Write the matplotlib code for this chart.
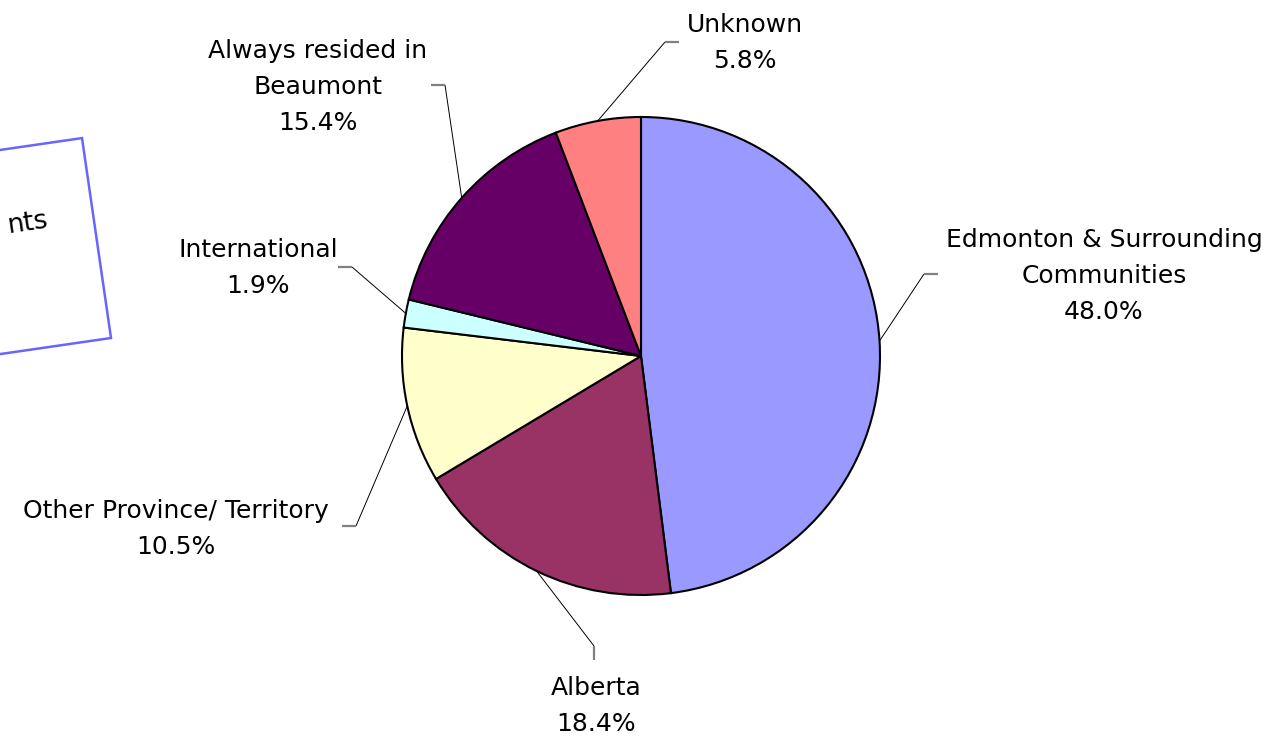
import numpy as np
import matplotlib
matplotlib.use("Agg")
import matplotlib.pyplot as plt
from matplotlib.patches import Rectangle

labels = ["Edmonton & Surrounding\nCommunities", "Alberta", "Other Province/ Territory",
          "International", "Always resided in\nBeaumont", "Unknown"]
shares = [48.0, 18.4, 10.5, 1.9, 15.4, 5.8]
colors = ["#9999FF", "#993366", "#FFFFCC", "#CCFFFF", "#660066", "#FF8080"]

# label text anchor and leader-line knee (pixel coords, y down)
text_pos = [(1104, 276), (596, 706), (176, 529), (258, 268), (318, 87), (745, 43)]
knee = [(924, 274), (594, 646), (356, 526), (352, 267), (445, 85), (665, 42)]
tick_dir = [(1, 0), (0, 1), (-1, 0), (-1, 0), (-1, 0), (1, 0)]

W, H = 1270, 737
fig = plt.figure(figsize=(12.7, 7.37), dpi=100)
ax = fig.add_axes([0, 0, 1, 1])

cx, cy, r = 641, H - 356, 239
wedges, _ = ax.pie(shares, colors=colors, startangle=90, counterclock=False,
                   center=(cx, cy), radius=r, frame=True,
                   wedgeprops=dict(edgecolor="black", linewidth=1.5))
ax.set_xlim(0, W)
ax.set_ylim(0, H)
ax.axis("off")
ax.set_aspect("equal")

for w, lab, val, tp, kn, td in zip(wedges, labels, shares, text_pos, knee, tick_dir):
    mid = np.deg2rad((w.theta1 + w.theta2) / 2)
    ex, ey = cx + r * np.cos(mid), cy + r * np.sin(mid)
    kx, ky = kn[0], H - kn[1]
    ax.plot([ex, kx], [ey, ky], color="black", lw=0.7, solid_capstyle="butt")
    ax.plot([kx, kx + 14 * td[0]], [ky, ky - 14 * td[1]], color="#808080", lw=1.6,
            solid_capstyle="butt")
    ax.text(tp[0], H - tp[1], f"{lab}\n{val:.1f}%", ha="center", va="center",
            fontsize=18, linespacing=1.65, family="DejaVu Sans")

# rotated text box, partly off the left edge
ang = 8.25
bw, bh = 250, 202
brx, bry = 111, H - 338
t = np.deg2rad(ang)
blx, bly = brx - bw * np.cos(t), bry - bw * np.sin(t)
ax.add_patch(Rectangle((blx, bly), bw, bh, angle=ang, facecolor="white",
                       edgecolor="#6666FF", lw=1.8, zorder=0))
ax.text(8, H - 226, "nts", ha="left", va="center", rotation=ang,
        fontsize=19, family="DejaVu Sans", rotation_mode="anchor")

fig.savefig("out.png", dpi=100)
